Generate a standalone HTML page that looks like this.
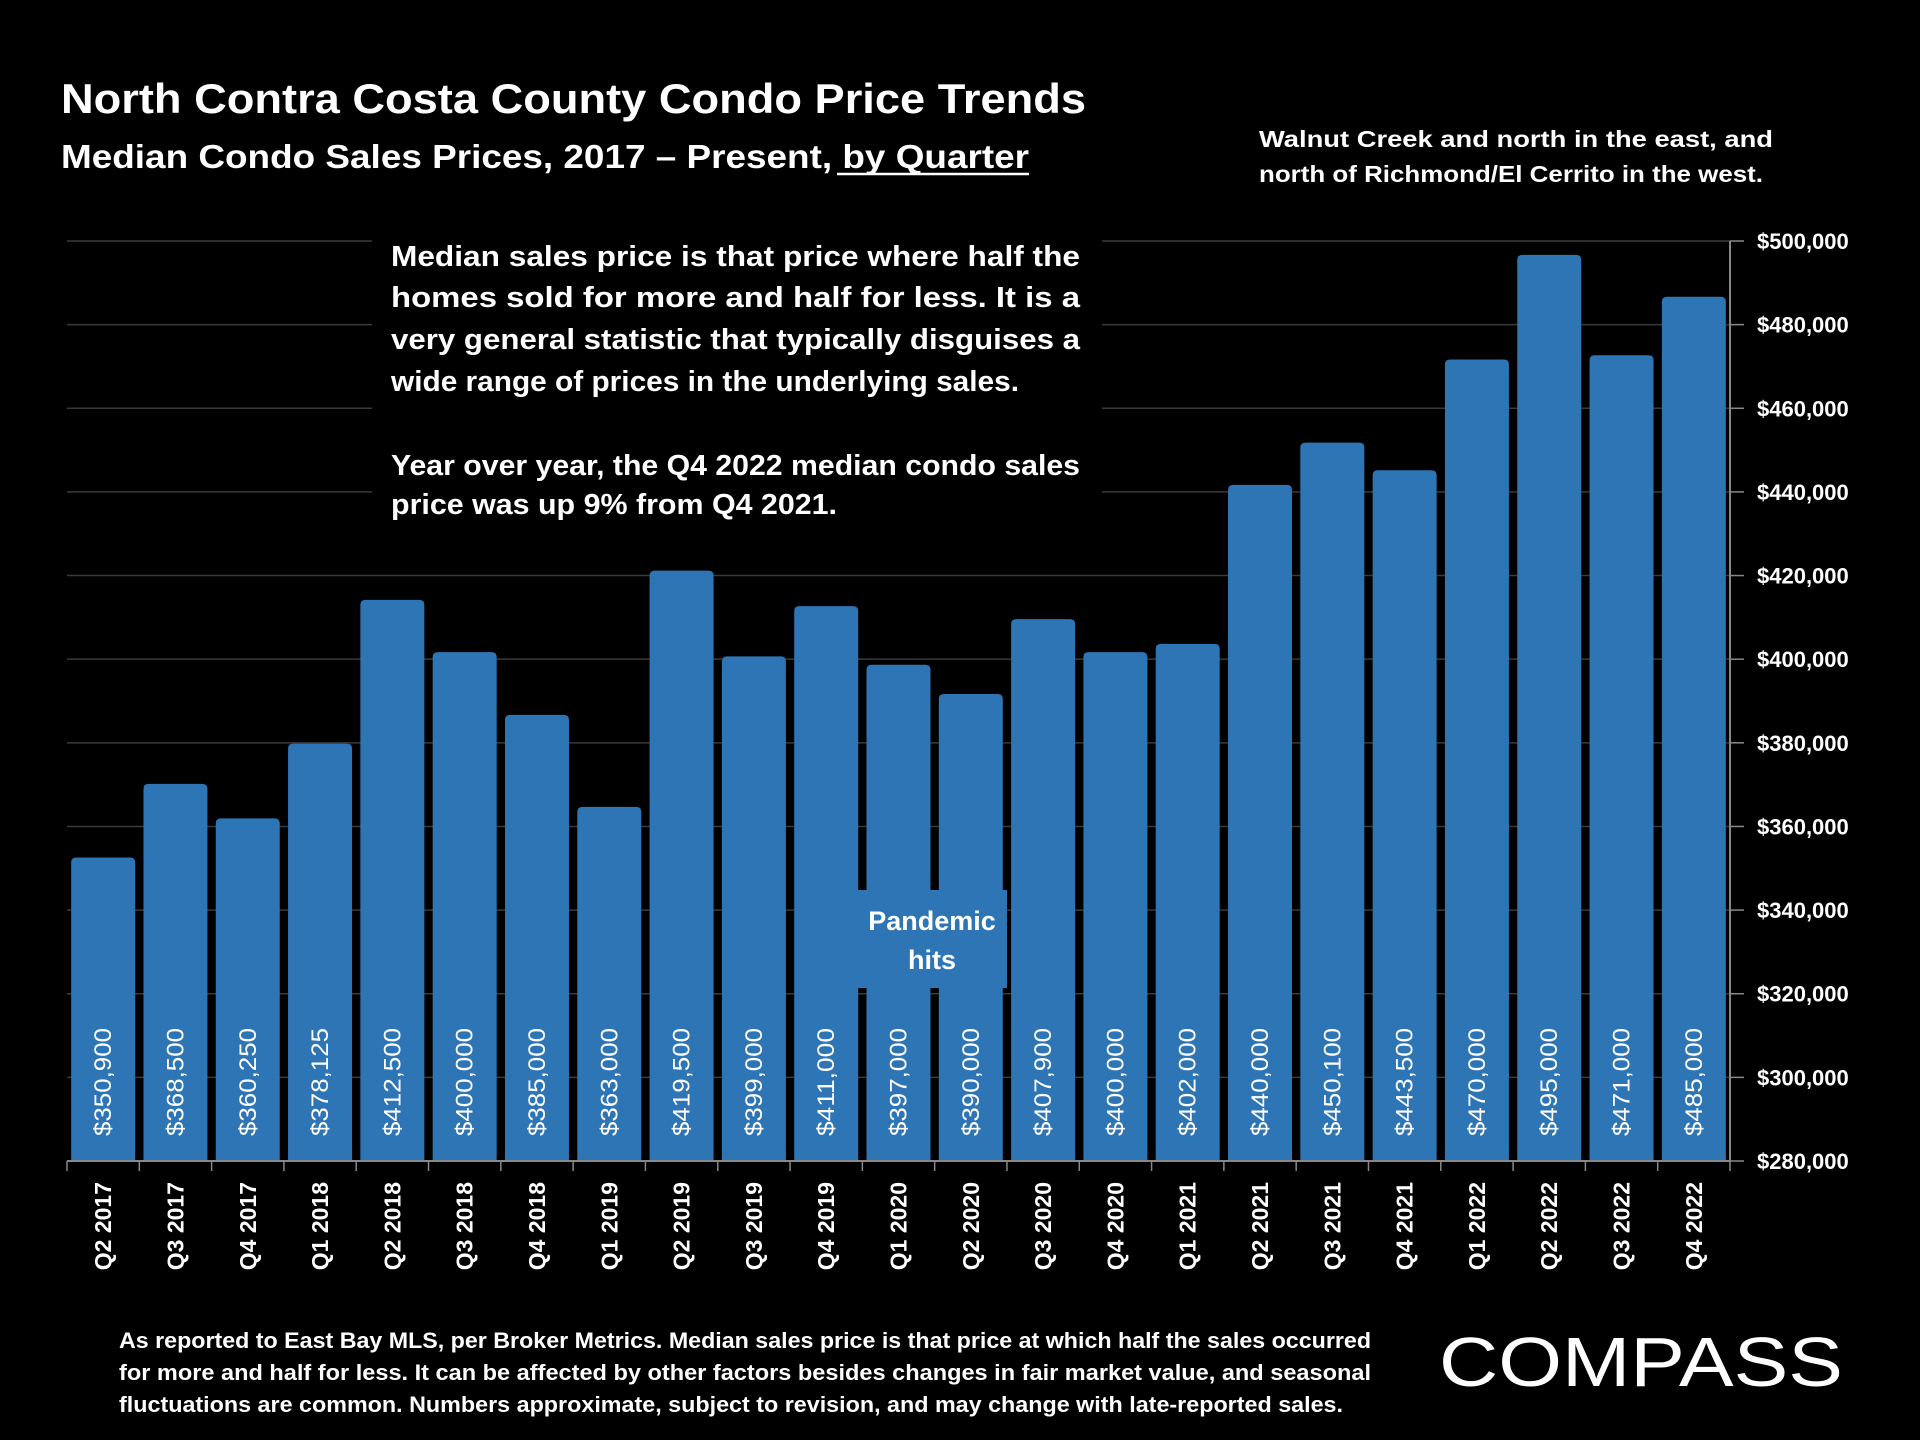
<!DOCTYPE html>
<html><head><meta charset="utf-8"><style>
html,body{margin:0;padding:0;background:#000;}
svg{display:block;font-family:"Liberation Sans",sans-serif;}
</style></head><body>
<svg id="chart" width="1920" height="1440" viewBox="0 0 1920 1440" xmlns="http://www.w3.org/2000/svg">
<rect width="1920" height="1440" fill="#000"/>
<g id="grid"></g>
<g id="bars"></g>
<g id="axes"></g>
<text x="61" y="113" fill="#fff" font-size="42" font-weight="bold" textLength="1025" lengthAdjust="spacingAndGlyphs">North Contra Costa County Condo Price Trends</text>
<text x="61" y="168" fill="#fff" font-size="33" font-weight="bold" textLength="968" lengthAdjust="spacingAndGlyphs">Median Condo Sales Prices, 2017 – Present, by Quarter</text>
<line x1="837" y1="174" x2="1029" y2="174" stroke="#fff" stroke-width="2.5"/>
<g fill="#fff" font-size="23" font-weight="bold">
<text x="1259" y="147" textLength="514" lengthAdjust="spacingAndGlyphs">Walnut Creek and north in the east, and</text>
<text x="1259" y="182" textLength="504" lengthAdjust="spacingAndGlyphs">north of Richmond/El Cerrito in the west.</text>
</g>
<rect x="372" y="236" width="730" height="292" fill="#000"/>
<g fill="#fff" font-size="29" font-weight="bold">
<text x="391" y="266" textLength="689" lengthAdjust="spacingAndGlyphs">Median sales price is that price where half the</text>
<text x="391" y="307" textLength="689" lengthAdjust="spacingAndGlyphs">homes sold for more and half for less. It is a</text>
<text x="391" y="349" textLength="689" lengthAdjust="spacingAndGlyphs">very general statistic that typically disguises a</text>
<text x="391" y="391" textLength="628" lengthAdjust="spacingAndGlyphs">wide range of prices in the underlying sales.</text>
<text x="391" y="475" textLength="689" lengthAdjust="spacingAndGlyphs">Year over year, the Q4 2022 median condo sales</text>
<text x="391" y="514" textLength="446" lengthAdjust="spacingAndGlyphs">price was up 9% from Q4 2021.</text>
</g>
<g id="pandemic">
<rect x="857" y="890" width="150" height="98" fill="#2E75B6"/>
<text x="932" y="930" fill="#fff" font-size="27" font-weight="bold" text-anchor="middle">Pandemic</text>
<text x="932" y="969" fill="#fff" font-size="27" font-weight="bold" text-anchor="middle">hits</text>
</g>
<g fill="#fff" font-size="22" font-weight="bold">
<text x="119" y="1348" textLength="1252" lengthAdjust="spacingAndGlyphs">As reported to East Bay MLS, per Broker Metrics. Median sales price is that price at which half the sales occurred</text>
<text x="119" y="1380" textLength="1252" lengthAdjust="spacingAndGlyphs">for more and half for less. It can be affected by other factors besides changes in fair market value, and seasonal</text>
<text x="119" y="1412" textLength="1224" lengthAdjust="spacingAndGlyphs">fluctuations are common. Numbers approximate, subject to revision, and may change with late-reported sales.</text>
</g>
<text x="1439" y="1386" fill="#fff" font-size="70" textLength="404" lengthAdjust="spacingAndGlyphs">COMPASS</text>
</svg>
<script>
const categories=["Q2 2017","Q3 2017","Q4 2017","Q1 2018","Q2 2018","Q3 2018","Q4 2018","Q1 2019","Q2 2019","Q3 2019","Q4 2019","Q1 2020","Q2 2020","Q3 2020","Q4 2020","Q1 2021","Q2 2021","Q3 2021","Q4 2021","Q1 2022","Q2 2022","Q3 2022","Q4 2022"];
const prices=[350900,368500,360250,378125,412500,400000,385000,363000,419500,399000,411000,397000,390000,407900,400000,402000,440000,450100,443500,470000,495000,471000,485000];
const yTicks=[280000,300000,320000,340000,360000,380000,400000,420000,440000,460000,480000,500000];
const NS="http://www.w3.org/2000/svg";
const X0=67,X1=1730,Y0=1161,Y1=241,YMIN=280000,YMAX=500000,BAR_LIFT=7;
const bw=(X1-X0)/categories.length;
function y(v){return Y0-(v-YMIN)/(YMAX-YMIN)*(Y0-Y1);}
function xc(i){return X0+bw*(i+0.5);}
function mk(tag,attrs,parent){const e=document.createElementNS(NS,tag);for(const k in attrs)e.setAttribute(k,attrs[k]);parent.appendChild(e);return e;}
const grid=document.getElementById('grid'),bars=document.getElementById('bars'),axes=document.getElementById('axes');
yTicks.forEach(t=>{
  if(t>YMIN){const g=mk('line',{x1:X0,x2:X1,y1:y(t),y2:y(t),stroke:'#3a3a3a','stroke-width':1.5},grid);
  
  }
  const tk=mk('line',{x1:X1,x2:X1+14,y1:y(t),y2:y(t),stroke:'#888','stroke-width':1.5},axes);
  
  
  const lb=mk('text',{x:1757,y:y(t)+8,fill:'#fff','font-size':22,'font-weight':'bold'},axes);
  lb.textContent='$'+t.toLocaleString('en-US');
  
  
});
prices.forEach((v,i)=>{
  const w=bw*0.885,x=xc(i)-w/2,top=y(v)-BAR_LIFT,r=5;
  const p=mk('path',{d:`M${x},${Y0}V${top+r}Q${x},${top} ${x+r},${top}H${x+w-r}Q${x+w},${top} ${x+w},${top+r}V${Y0}Z`,fill:'#2E75B6'},bars);
  
  
  const t=mk('text',{transform:`translate(${xc(i)+8},1136) rotate(-90)`,fill:'#fff','font-size':24,textLength:108,lengthAdjust:'spacingAndGlyphs'},bars);
  t.textContent='$'+v.toLocaleString('en-US');
  
  
  const xl=mk('text',{transform:`translate(${xc(i)+8},1182) rotate(-90)`,fill:'#fff','font-size':23,'font-weight':'bold','text-anchor':'end'},axes);
  xl.textContent=categories[i];
  
  
});
for(let i=0;i<=categories.length;i++){
  const tk=mk('line',{x1:X0+bw*i,x2:X0+bw*i,y1:Y0,y2:Y0+10,stroke:'#888','stroke-width':1.5},axes);
  
  
}
const xa=mk('line',{x1:X0,x2:X1,y1:Y0,y2:Y0,stroke:'#888','stroke-width':2},axes);


const ya=mk('line',{x1:X1,x2:X1,y1:Y1,y2:Y0,stroke:'#888','stroke-width':2},axes);


document.getElementById('chart').appendChild(document.getElementById('pandemic'));
</script>
</body></html>
